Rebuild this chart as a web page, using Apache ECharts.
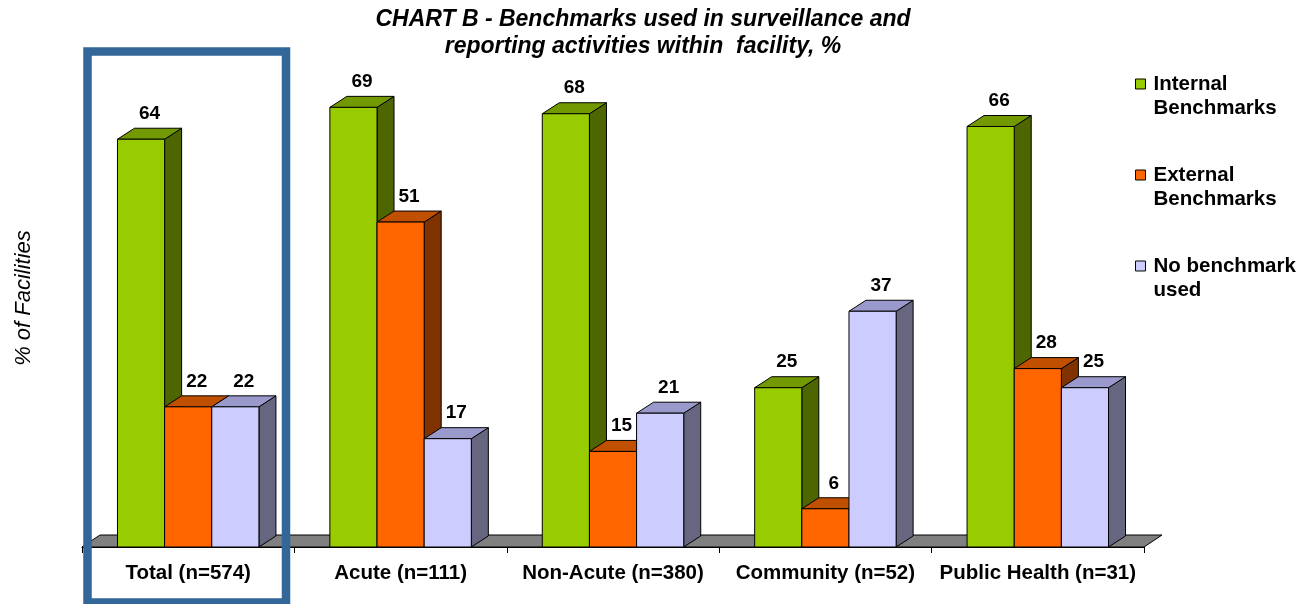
<!DOCTYPE html>
<html><head><meta charset="utf-8">
<script src="https://cdn.jsdelivr.net/npm/echarts@6/dist/echarts.min.js"></script>
<style>html,body{margin:0;padding:0;background:#fff}#c{width:1314px;height:604px}</style>
</head><body><div id="c"></div>
<script>
// ---- data ----
const categories = ['Total (n=574)', 'Acute (n=111)', 'Non-Acute (n=380)', 'Community (n=52)', 'Public Health (n=31)'];
const seriesNames = ['Internal\nBenchmarks', 'External\nBenchmarks', 'No benchmark\nused'];
const internalBenchmarks = [64, 69, 68, 25, 66];
const externalBenchmarks = [22, 51, 15, 6, 28];
const noBenchmarkUsed = [22, 17, 21, 37, 25];
const yMin = 0, yMax = 70;

// ---- styling ----
const palettes = [
  { front: '#99CC00', top: '#739900', side: '#4D6600' },
  { front: '#FF6600', top: '#C04F00', side: '#803300' },
  { front: '#CCCCFF', top: '#9999CC', side: '#666680' }
];
const DX = 17, DY = -11;       // bar depth offset
const FDX = 18, FDY = -12;     // floor depth offset
const BAR_FRAC = 0.222;        // bar width as fraction of category band
const FONT = 'Liberation Sans, Arial, sans-serif';

function barRenderer(k) {
  const pal = palettes[k];
  return function (params, api) {
    const idx = api.value(0), val = api.value(1);
    const base = api.coord([idx, 0]);
    const topPt = api.coord([idx, val]);
    const band = api.size([1, 0])[0];
    const w = band * BAR_FRAC;
    const x0 = base[0] + (k - 1.5) * w;
    const x1 = x0 + w;
    const yb = base[1], yt = topPt[1];
    const edge = { stroke: '#000', lineWidth: 1, lineJoin: 'round' };
    return {
      type: 'group',
      children: [
        { type: 'polygon', shape: { points: [[x1, yb], [x1 + DX, yb + DY], [x1 + DX, yt + DY], [x1, yt]] },
          style: Object.assign({ fill: pal.side }, edge) },
        { type: 'polygon', shape: { points: [[x0, yt], [x1, yt], [x1 + DX, yt + DY], [x0 + DX, yt + DY]] },
          style: Object.assign({ fill: pal.top }, edge) },
        { type: 'rect', shape: { x: x0, y: yt, width: w, height: yb - yt },
          style: Object.assign({ fill: pal.front }, edge) },
        { type: 'text', style: { text: String(val), x: (x0 + x1) / 2 + DX / 2, y: yt + DY - 5,
            align: 'center', verticalAlign: 'bottom', fill: '#000',
            fontFamily: FONT, fontWeight: 'bold', fontSize: 19 } }
      ]
    };
  };
}

function floorRenderer(params, api) {
  const cs = params.coordSys;
  const yb = api.coord([0, 0])[1];
  const xl = cs.x, xr = cs.x + cs.width;
  return {
    type: 'polygon',
    shape: { points: [[xl, yb], [xr, yb], [xr + FDX, yb + FDY], [xl + FDX, yb + FDY]] },
    style: { fill: '#808080', stroke: '#000', lineWidth: 1 }
  };
}

const seriesData = [internalBenchmarks, externalBenchmarks, noBenchmarkUsed];
const legendIcon = 'path://M0,0H10V10H0Z M0,34H0.01V34.01H0Z';

const option = {
  animation: false,
  backgroundColor: '#fff',
  title: {
    text: 'CHART B - Benchmarks used in surveillance and\nreporting activities within  facility, %',
    left: 638, top: 1, textAlign: 'center',
    textStyle: { fontFamily: FONT, fontWeight: 'bold', fontStyle: 'italic', fontSize: 23, lineHeight: 27, color: '#000' }
  },
  legend: {
    orient: 'vertical', left: 1130, top: 67, itemGap: 43,
    itemWidth: 10, itemHeight: 34,
    data: seriesNames.map((n, i) => ({ name: n, icon: legendIcon,
      itemStyle: { color: palettes[i].front, borderColor: '#000', borderWidth: 1 } })),
    textStyle: { fontFamily: FONT, fontWeight: 'bold', fontSize: 20.5, lineHeight: 24, color: '#000', padding: [0, 0, 0, 3] },
    selectedMode: false
  },
  grid: { left: 82, right: 170, top: 101, bottom: 57, containLabel: false },
  xAxis: {
    type: 'category', data: categories,
    axisLine: { show: true, lineStyle: { color: '#000', width: 1 } },
    axisTick: { show: true, length: 6, lineStyle: { color: '#000' } },
    axisLabel: { margin: 16, color: '#000', fontFamily: FONT, fontWeight: 'bold', fontSize: 20.5, interval: 0 },
    z: 10
  },
  yAxis: {
    type: 'value', min: yMin, max: yMax,
    axisLine: { show: false }, axisTick: { show: false }, axisLabel: { show: false }, splitLine: { show: false },
    name: '% of Facilities', nameLocation: 'middle', nameRotate: 90, nameGap: 47,
    nameTextStyle: { fontFamily: FONT, fontStyle: 'italic', fontSize: 22, color: '#000', padding: [0, 0, 0, 52] }
  },
  graphic: [
    { type: 'rect', z: 100, shape: { x: 87.5, y: 51.5, width: 198.5, height: 551 },
      style: { fill: 'none', stroke: '#336699', lineWidth: 8.5 } }
  ],
  series: [
    { type: 'custom', name: 'floor', data: [[0, 0]], renderItem: floorRenderer, z: 1, silent: true, legendHoverLink: false }
  ].concat(seriesData.map((arr, k) => ({
    type: 'custom', name: seriesNames[k], z: 2,
    itemStyle: { color: palettes[k].front },
    data: arr.map((v, i) => [i, v]),
    encode: { x: 0, y: 1 },
    renderItem: barRenderer(k)
  })))
};

const chart = echarts.init(document.getElementById('c'), null, { renderer: 'canvas' });
chart.setOption(option);
</script>
</body></html>
